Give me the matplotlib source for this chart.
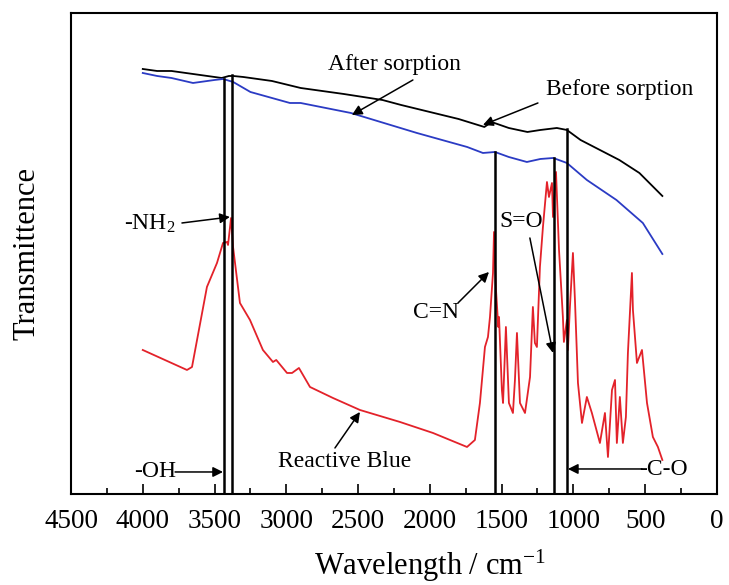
import matplotlib

matplotlib.use("Agg")
import matplotlib.pyplot as plt
from matplotlib.ticker import MultipleLocator

plt.rcParams["font.family"] = ["Liberation Serif", "DejaVu Serif"]
plt.rcParams["mathtext.fontset"] = "custom"
plt.rcParams["mathtext.rm"] = "Liberation Serif"
plt.rcParams["mathtext.it"] = "Liberation Serif:italic"
plt.rcParams["mathtext.default"] = "rm"

# spectra (wavenumber, transmittance in arbitrary units)
before_wn = [4000, 3900, 3800, 3700, 3600, 3450, 3400, 3370, 3300, 3100, 2900, 2600,
             2330, 2200, 2000, 1800, 1620, 1570, 1450, 1320, 1230, 1115, 1045, 950,
             815, 680, 540, 380]
before_t = [425, 423, 423, 421, 419, 416, 418, 418, 417, 413, 406, 400,
            394, 389, 382, 375, 367, 372, 366, 362, 364, 366, 364, 354,
            344, 334, 321, 298]

after_wn = [4000, 3900, 3800, 3650, 3500, 3440, 3370, 3250, 2975, 2900, 2550, 2090,
            1740, 1630, 1546, 1450, 1324, 1230, 1140, 1045, 906, 700, 516, 380]
after_t = [421, 418, 416, 411, 414, 415, 412, 402, 391, 391, 381, 361,
           347, 341, 342, 337, 332, 335, 336, 331, 314, 294, 271, 240]

dye_wn = [4000, 3692, 3657, 3553, 3483, 3441, 3413, 3406, 3385, 3371, 3323, 3253,
          3163, 3093, 3070, 2995, 2960, 2912, 2835, 2675, 2487, 2208, 1978, 1741,
          1686, 1651, 1616, 1595, 1581, 1560, 1553, 1539, 1523, 1518, 1498, 1490,
          1470, 1449, 1421, 1407, 1393, 1372, 1337, 1302, 1282, 1268, 1254, 1233,
          1212, 1184, 1170, 1149, 1142, 1121, 1100, 1073, 1066, 1045, 1038, 1024,
          1003, 989, 968, 940, 906, 871, 815, 780, 759, 731, 710, 697,
          676, 655, 634, 620, 592, 585, 557, 522, 487, 446, 411, 380]
dye_t = [144, 124, 127, 207, 231, 251, 252, 249, 276, 247, 191, 174,
         144, 132, 134, 121, 121, 126, 107, 96, 84, 72, 61, 47,
         54, 91, 147, 157, 177, 221, 262, 204, 167, 177, 104, 91,
         167, 91, 81, 114, 161, 91, 81, 117, 187, 151, 147, 227,
         267, 312, 297, 311, 277, 322, 244, 177, 152, 174, 144, 187,
         241, 194, 111, 71, 97, 81, 51, 81, 37, 104, 114, 51,
         97, 51, 77, 141, 221, 184, 131, 144, 91, 57, 47, 34]

# band markers: position and top end of each vertical line
band_wn = [3434, 3379, 1546, 1135, 1045]
band_top = [415, 419, 342, 336, 365]

# labels: text, text centre, arrow tail, arrow tip
labels = ["After sorption", "Before sorption", "-NH$_2$", "-OH",
          "Reactive Blue", "C=N", "S=O", "-C-O"]
label_pos = [(2250, 429), (676, 404), (3950, 270), (3915, 22),
             (2591, 32), (1957, 181), (1365, 272), (369, 24)]
arrow_from = [(2118, 414), (1247, 391), (3727, 271), (3775, 22),
              (2661, 46), (1804, 191), (1303, 256), (522, 25)]
arrow_to = [(2543, 379), (1630, 369), (3393, 277), (3441, 22),
            (2487, 82), (1588, 222), (1142, 141), (1038, 25)]

fig = plt.figure(figsize=(7.29, 5.85), dpi=100)
ax = fig.add_axes([0.0974, 0.1556, 0.886, 0.8222])

ax.plot(before_wn, before_t, color="black", lw=1.3)
ax.plot(after_wn, after_t, color="#2b3bc4", lw=1.3)
ax.plot(dye_wn, dye_t, color="#e3222a", lw=1.3)

for wn, top in zip(band_wn, band_top):
    ax.plot([wn, wn], [0, top], color="black", lw=1.8)

arrow = dict(arrowstyle="-|>", color="black", lw=1.1, mutation_scale=15,
             shrinkA=0, shrinkB=0)
for txt, pos, a, b in zip(labels, label_pos, arrow_from, arrow_to):
    ax.text(pos[0], pos[1], txt, ha="center", va="center", fontsize=17)
    ax.annotate("", xy=b, xytext=a, arrowprops=arrow)

ax.set_xlim(4500, 0)
ax.set_ylim(0, 481)
ax.xaxis.set_major_locator(MultipleLocator(500))
ax.xaxis.set_minor_locator(MultipleLocator(250))
ax.tick_params(axis="x", which="major", direction="in", length=7, width=1.2,
               labelsize=19.5, pad=11)
ax.tick_params(axis="x", which="minor", direction="in", length=4, width=1.2)
ax.set_yticks([])
for s in ax.spines.values():
    s.set_linewidth(1.5)

ax.set_xlabel("Wavelength / cm$^{-1}$", fontsize=22, labelpad=10, x=0.556)
ax.set_ylabel("Transmittence", fontsize=22, labelpad=21)

plt.savefig("out.png", dpi=100)
